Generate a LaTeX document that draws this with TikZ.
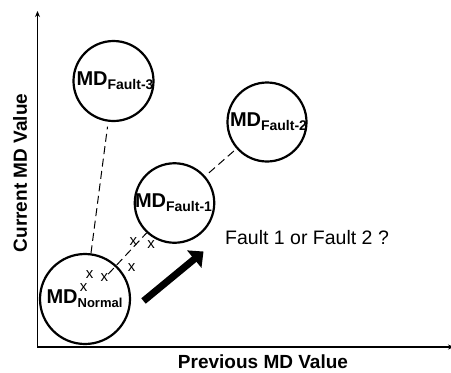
\documentclass[tikz,border=0pt]{standalone}
\usepackage{fontspec}
\setmainfont{Liberation Sans}
\usetikzlibrary{arrows.meta,calc}
\newcommand\mdtext[2]{{\fontsize{20}{20}\selectfont\bfseries MD\raisebox{-3.5pt}{\fontsize{#2}{#2}\selectfont #1}}}
\tikzset{
  state/.style={circle,draw,line width=2.2pt,minimum size=#1,inner sep=0pt},
  statetext/.style={inner sep=0pt},
  link/.style={dash pattern=on 8pt off 4.5pt,line width=1pt},
  sample/.style={font=\fontsize{15}{15}\selectfont,inner sep=0pt},
  axis/.style={line width=1.6pt,{Stealth[length=6pt,width=5pt]}-{Stealth[length=6pt,width=5pt]}},
  axislabel/.style={font=\fontsize{19}{19}\selectfont\bfseries,inner sep=0pt},
  trend/.style={line width=7pt,-{Triangle[length=12pt,width=22pt]}},
}
\begin{document}
\begin{tikzpicture}[x=1pt,y=-1pt]
  \useasboundingbox (0,0) rectangle (451,373);

  % axes
  \coordinate (ytop) at (37.5,11);
  \coordinate (origin) at (37.5,347);
  \coordinate (xend) at (454,347);
  \draw[axis] (ytop) -- (origin) -- (xend);
  \node[axislabel,rotate=90] (ylab) at (20,173) {Current MD Value};
  \node[axislabel,anchor=base] (xlab) at (263,368.5) {Previous MD Value};

  % operating-state regions
  \node[state=90pt] (normal) at (85,299) {};
  \node[state=80pt] (fault3) at (113.5,81) {};
  \node[state=79pt] (fault2) at (267,122) {};
  \node[state=79.5pt] (fault1) at (174.5,203) {};

  \node[statetext] (tnormal) at (84.5,298.5) {\mdtext{Normal}{13}};
  \node[statetext] (tfault3) at (115,80.5) {\mdtext{Fault-3}{14}};
  \node[statetext] (tfault2) at (268.5,121.5) {\mdtext{Fault-2}{14}};
  \node[statetext] (tfault1) at (173.5,202.5) {\mdtext{Fault-1}{14}};

  % fault directions
  \draw[link,shorten >=5pt] (normal) -- (fault3);
  \draw[link,shorten <=5pt] (fault1) -- (fault2);
  \coordinate (drift) at ($(normal)!0.26!(fault1)$);
  \draw[link] (drift) -- (fault1);

  % observed samples
  \node[sample] (s1) at (83.5,287.5) {x};
  \node[sample] (s2) at (89.5,275) {x};
  \node[sample] (s3) at (104.3,278) {x};
  \node[sample] (s4) at (131.7,268) {x};
  \node[sample] (s5) at (133.3,241.5) {x};
  \node[sample] (s6) at (151,245) {x};

  % trend arrow and question
  \coordinate (tail) at (143.5,301);
  \coordinate (head) at (203.5,251.5);
  \draw[trend] (tail) -- (head);
  \node[font=\fontsize{19.5}{19.5}\selectfont,anchor=base west,inner sep=0pt] (question) at (225,244.5) {Fault 1 or Fault 2 ?};
\end{tikzpicture}
\end{document}
